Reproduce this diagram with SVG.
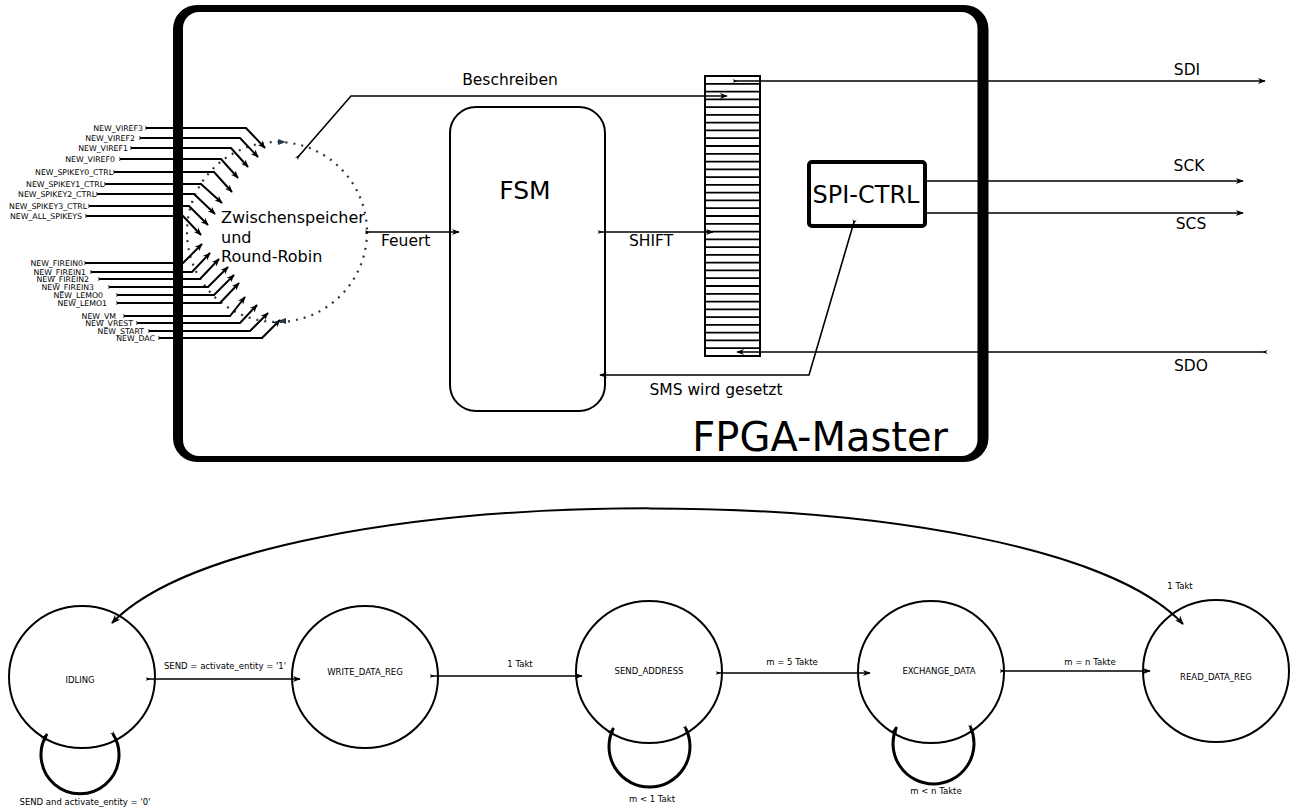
<svg xmlns="http://www.w3.org/2000/svg" width="1296" height="812" viewBox="0 0 1296 812">
<defs>
<style>
text{font-family:"DejaVu Sans","Liberation Sans",sans-serif;fill:#000}
.lbl{font-size:15.5px}
.in{font-size:7.8px;text-anchor:end}
.st{font-size:8.5px;text-anchor:middle}
.el{font-size:8.5px;text-anchor:middle}
.inl{fill:none;stroke:#000;stroke-width:2;marker-start:url(#tail);marker-end:url(#arr)}
.con{fill:none;stroke:#000;stroke-width:1.6;marker-start:url(#tail);marker-end:url(#arr)}
.loop{fill:none;stroke:#000;stroke-width:3;marker-start:url(#tail);marker-end:url(#arr)}
.circ{fill:none;stroke:#000;stroke-width:2}
</style>
<marker id="arr" viewBox="0 0 10 10" refX="9" refY="5" markerWidth="8" markerHeight="8" markerUnits="userSpaceOnUse" orient="auto">
<path d="M0,1 L10,5 L0,9 L3,5 z" fill="#000"/>
</marker>
<marker id="tail" viewBox="0 0 10 10" refX="5" refY="5" markerWidth="5" markerHeight="5" markerUnits="userSpaceOnUse" orient="auto">
<path d="M0,1 L10,5 L0,9 L3,5 z" fill="#000"/>
</marker>
<marker id="arr2" viewBox="0 0 10 10" refX="9" refY="5" markerWidth="9" markerHeight="9" markerUnits="userSpaceOnUse" orient="auto-start-reverse">
<path d="M0,1 L10,5 L0,9 L3,5 z" fill="#000"/>
</marker>
</defs>

<g id="fpga-master">
<path fill="#000" fill-rule="evenodd" d="M197,5H964.5A24,24 0 0 1 988.5,29V438A24,24 0 0 1 964.5,462H197A24,24 0 0 1 173,438V29A24,24 0 0 1 197,5Z M199,12H961.5A16,16 0 0 1 977.5,28V440A16,16 0 0 1 961.5,456H199A16,16 0 0 1 183,440V28A16,16 0 0 1 199,12Z"/>
<text x="948" y="451" font-size="40" text-anchor="end">FPGA-Master</text>
</g>

<g id="fsm">
<rect x="450" y="107" width="155" height="304" rx="26" fill="none" stroke="#000" stroke-width="2"/>
<text x="525" y="199" font-size="25" text-anchor="middle">FSM</text>
</g>

<g id="zwischenspeicher">
<circle cx="277" cy="232" r="90" fill="none" stroke="#22384d" stroke-width="2.2" stroke-dasharray="2,6"/>
<path d="M278,139 L286,142 L278,145 z" fill="#22384d"/>
<path d="M286,318 L278,321 L286,324 z" fill="#22384d"/>
<text x="221" y="223" font-size="16">Zwischenspeicher</text>
<text x="221" y="243" font-size="16">und</text>
<text x="221" y="262" font-size="16">Round-Robin</text>
</g>

<g id="shift-register">
<rect x="705" y="76" width="55" height="280" fill="#fff" stroke="#000" stroke-width="2"/>
<path stroke="#000" stroke-width="1.8" d="M705,83.8H760M705,91.6H760M705,99.3H760M705,107.1H760M705,114.9H760M705,122.7H760M705,130.4H760M705,138.2H760M705,146H760M705,153.8H760M705,161.6H760M705,169.3H760M705,177.1H760M705,184.9H760M705,192.7H760M705,200.4H760M705,208.2H760M705,216H760M705,223.8H760M705,231.6H760M705,239.3H760M705,247.1H760M705,254.9H760M705,262.7H760M705,270.4H760M705,278.2H760M705,286H760M705,293.8H760M705,301.6H760M705,309.3H760M705,317.1H760M705,324.9H760M705,332.7H760M705,340.4H760M705,348.2H760"/>
</g>

<g id="spi-ctrl">
<rect x="809" y="162" width="116" height="64" rx="3" fill="#fff" stroke="#000" stroke-width="4"/>
<text x="866" y="203" font-size="24" text-anchor="middle">SPI-CTRL</text>
</g>

<g id="inputs">
<text class="in" x="143" y="131">NEW_VIREF3</text>
<text class="in" x="135" y="141">NEW_VIREF2</text>
<text class="in" x="128" y="151">NEW_VIREF1</text>
<text class="in" x="115" y="162">NEW_VIREF0</text>
<text class="in" x="113" y="175">NEW_SPIKEY0_CTRL</text>
<text class="in" x="104" y="187">NEW_SPIKEY1_CTRL</text>
<text class="in" x="96" y="197">NEW_SPIKEY2_CTRL</text>
<text class="in" x="87" y="209">NEW_SPIKEY3_CTRL</text>
<text class="in" x="82" y="219">NEW_ALL_SPIKEYS</text>
<text class="in" x="83" y="266">NEW_FIREIN0</text>
<text class="in" x="86" y="275">NEW_FIREIN1</text>
<text class="in" x="89" y="282">NEW_FIREIN2</text>
<text class="in" x="94" y="290">NEW_FIREIN3</text>
<text class="in" x="103" y="298">NEW_LEMO0</text>
<text class="in" x="107" y="306">NEW_LEMO1</text>
<text class="in" x="116" y="319">NEW_VM</text>
<text class="in" x="133" y="326">NEW_VREST</text>
<text class="in" x="144" y="334">NEW_START</text>
<text class="in" x="155" y="341">NEW_DAC</text>
</g>

<g id="states">
<g id="s-idling"><ellipse class="circ" cx="82" cy="677" rx="73" ry="71"/><text class="st" x="80" y="683">IDLING</text></g>
<g id="s-write"><ellipse class="circ" cx="365" cy="677" rx="73" ry="71"/><text class="st" x="365" y="675">WRITE_DATA_REG</text></g>
<g id="s-send"><ellipse class="circ" cx="649" cy="672" rx="73" ry="71"/><text class="st" x="649" y="674">SEND_ADDRESS</text></g>
<g id="s-exchange"><ellipse class="circ" cx="931" cy="672" rx="73" ry="71"/><text class="st" x="939" y="674">EXCHANGE_DATA</text></g>
<g id="s-read"><ellipse class="circ" cx="1216" cy="671" rx="73" ry="71"/><text class="st" x="1216" y="680">READ_DATA_REG</text></g>
</g>

<g id="connectors">
<path class="inl" d="M147,128H246L265,148"/>
<path class="inl" d="M141,138H240L258,157"/>
<path class="inl" d="M132,148H231L248,167"/>
<path class="inl" d="M121,159H221L238,178"/>
<path class="inl" d="M115,172H214L232,192"/>
<path class="inl" d="M106,184H201L222,203"/>
<path class="inl" d="M98,194H194L215,214"/>
<path class="inl" d="M90,206H189L208,225"/>
<path class="inl" d="M87,216H183L201,235"/>
<path class="inl" d="M86,263H183L202,244"/>
<path class="inl" d="M92,272H192L210,253"/>
<path class="inl" d="M100,279H200L219,259"/>
<path class="inl" d="M110,287H208L228,267"/>
<path class="inl" d="M118,295H214L234,275"/>
<path class="inl" d="M118,303H220L239,283"/>
<path class="inl" d="M125,316H230L245,297"/>
<path class="inl" d="M138,323H240L257,305"/>
<path class="inl" d="M150,331H250L268,313"/>
<path class="inl" d="M160,338H262L280,320"/>

<path class="con" d="M298,157L351,96H727"/>
<text class="lbl" x="510" y="85" text-anchor="middle">Beschreiben</text>
<path class="con" d="M367,232H459"/>
<text class="lbl" x="381" y="246">Feuert</text>
<path class="con" d="M600,232H713"/>
<text class="lbl" x="629" y="246">SHIFT</text>
<path class="con" d="M854,222L809,375H600"/>
<text class="lbl" x="716" y="395" text-anchor="middle">SMS wird gesetzt</text>
<path class="con" d="M735,81H1265"/>
<text class="lbl" x="1187" y="75" text-anchor="middle">SDI</text>
<path class="con" d="M925,181H1243"/>
<text class="lbl" x="1189" y="171" text-anchor="middle">SCK</text>
<path class="con" d="M925,213H1243"/>
<text class="lbl" x="1191" y="229" text-anchor="middle">SCS</text>
<path class="con" d="M1265,352H737"/>
<text class="lbl" x="1191" y="371" text-anchor="middle">SDO</text>

<path class="con" d="M148,679H300"/>
<text class="el" x="225" y="669">SEND = activate_entity = '1'</text>
<path class="con" d="M432,676H582"/>
<text class="el" x="520" y="667">1 Takt</text>
<path class="con" d="M718,673H870"/>
<text class="el" x="792" y="665">m = 5 Takte</text>
<path class="con" d="M1002,671H1150"/>
<text class="el" x="1090" y="665">m = n Takte</text>
<path fill="none" stroke="#000" stroke-width="2" marker-start="url(#arr2)" marker-end="url(#arr2)" d="M112,623C260,470 1040,470 1183,624"/>
<text class="el" x="1180" y="589">1 Takt</text>

<path class="loop" d="M113,734A39,39 0 1 1 47,734"/>
<text class="el" x="85" y="805">SEND and activate_entity = '0'</text>
<path class="loop" d="M685.5,728A40.5,40.5 0 1 1 613.5,728"/>
<text class="el" x="652" y="802">m &lt; 1 Takt</text>
<path class="loop" d="M970.5,727A40.5,40.5 0 1 1 896.5,727"/>
<text class="el" x="936" y="794">m &lt; n Takte</text>
</g>
</svg>
